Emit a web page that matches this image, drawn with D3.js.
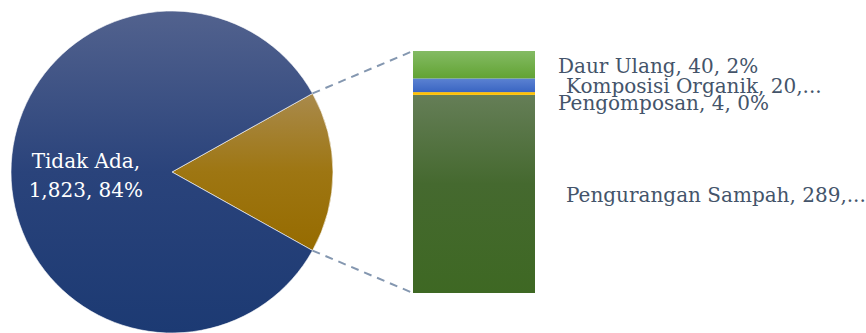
<!DOCTYPE html>
<html>
<head>
<meta charset="utf-8">
<script src="https://cdn.jsdelivr.net/npm/d3@7"></script>
<style>
  body { margin: 0; background: #fff; }
  text { font-family: "DejaVu Serif", serif; }
</style>
</head>
<body>
<div id="chart"></div>
<script>
// pie categories and values
const pieCategory = "Tidak Ada";
const pieValue = 1823;
// categories that get split out into the stacked bar (bottom to top)
const barCategories = ["Pengurangan Sampah", "Pengomposan", "Komposisi Organik", "Daur Ulang"];
const barValues = [289, 4, 20, 40];
// labels that Excel cut short with "..."
const cutLabels = ["Komposisi Organik", "Pengurangan Sampah"];

const width = 866, height = 333;
// pie geometry
const cx = 172, cy = 172, radius = 161;
// bar geometry
const bar = {left: 413, right: 535, top: 51, bottom: 293};

const otherValue = d3.sum(barValues);
const total = pieValue + otherValue;
const fmt = d3.format(",");
const pct = v => Math.round(v / total * 100) + "%";

const svg = d3.select("#chart").append("svg")
    .attr("width", width)
    .attr("height", height);

const defs = svg.append("defs");

// vertical gradients, lighter at the top like the Office style
function grad(id, stops) {
    let g = defs.append("linearGradient")
        .attr("id", id)
        .attr("x1", 0).attr("y1", 0).attr("x2", 0).attr("y2", 1);
    stops.forEach(s => g.append("stop").attr("offset", s[0]).attr("stop-color", s[1]));
}
grad("gBlue", [[0, "#52628e"], [0.5, "#2a437b"], [1, "#1c3a73"]]);
grad("gGold", [[0, "#a98a4c"], [0.5, "#9e7612"], [1, "#966b00"]]);
grad("gLight", [[0, "#84bb64"], [1, "#62a333"]]);
grad("gBlue2", [[0, "#5b82d2"], [1, "#3a65c2"]]);
grad("gGold2", [[0, "#ffc000"], [1, "#ffc000"]]);
grad("gDark", [[0, "#657e57"], [0.45, "#45692f"], [1, "#3e6823"]]);

const barFills = ["url(#gDark)", "url(#gGold2)", "url(#gBlue2)", "url(#gLight)"];

// pie: "other" slice centred on the right side
const otherAngle = otherValue / total * 2 * Math.PI;
const pie = d3.pie()
    .sort(null)
    .value(d => d.value)
    .startAngle(Math.PI / 2 - otherAngle / 2)
    .endAngle(Math.PI / 2 - otherAngle / 2 + 2 * Math.PI);

const arcs = pie([{name: "Other", value: otherValue}, {name: pieCategory, value: pieValue}]);
const arc = d3.arc().innerRadius(0).outerRadius(radius);

const pg = svg.append("g").attr("transform", `translate(${cx},${cy})`);
pg.selectAll("path")
    .data(arcs)
    .enter().append("path")
    .attr("d", arc)
    .attr("fill", d => d.data.name === "Other" ? "url(#gGold)" : "url(#gBlue)")
    .attr("stroke", "#fff")
    .attr("stroke-width", 0.6);

// label for the main slice
const main = arcs[1];
const mid = (main.startAngle + main.endAngle) / 2;
const lx = cx + Math.sin(mid) * radius * 0.535;
const ly = cy - Math.cos(mid) * radius * 0.535;
const pieText = svg.append("text")
    .attr("x", lx)
    .attr("y", ly)
    .attr("text-anchor", "middle")
    .attr("fill", "#fff")
    .attr("font-size", "20px");
pieText.append("tspan").attr("x", lx).attr("dy", "-4").text(pieCategory + ",");
pieText.append("tspan").attr("x", lx).attr("dy", "29").text(`${fmt(pieValue)}, ${pct(pieValue)}`);

// stacked bar
const y = d3.scaleLinear()
    .domain([0, otherValue])
    .range([bar.bottom, bar.top]);

let stacked = [];
let acc = 0;
barValues.forEach((v, i) => {
    stacked.push({name: barCategories[i], value: v, y0: acc, y1: acc + v, fill: barFills[i]});
    acc += v;
});

svg.selectAll(".seg")
    .data(stacked)
    .enter().append("rect")
    .attr("class", "seg")
    .attr("x", bar.left)
    .attr("width", bar.right - bar.left)
    .attr("y", d => y(d.y1))
    .attr("height", d => y(d.y0) - y(d.y1))
    .attr("fill", d => d.fill);

// connector lines from the other slice to the bar
const other = arcs[0];
const pt = a => [cx + Math.sin(a) * radius, cy - Math.cos(a) * radius];
const p1 = pt(other.startAngle), p2 = pt(other.endAngle);
svg.append("line")
    .attr("x1", p1[0]).attr("y1", p1[1])
    .attr("x2", bar.left).attr("y2", y(otherValue))
    .attr("stroke", "#8497b0").attr("stroke-width", 2).attr("stroke-dasharray", "8,6");
svg.append("line")
    .attr("x1", p2[0]).attr("y1", p2[1])
    .attr("x2", bar.left).attr("y2", y(0))
    .attr("stroke", "#8497b0").attr("stroke-width", 2).attr("stroke-dasharray", "8,6");

// bar labels, nudged down so they don't overlap
let labels = stacked.slice().reverse().map(d => {
    let txt = `${d.name}, ${fmt(d.value)}, ${pct(d.value)}`;
    let cut = cutLabels.includes(d.name);
    if (cut) txt = `${d.name}, ${fmt(d.value)},...`;
    return {text: txt, cy: y((d.y0 + d.y1) / 2), cut: cut};
});
for (let i = 1; i < labels.length; i++) {
    if (labels[i].cy < labels[i - 1].cy + 16.5) labels[i].cy = labels[i - 1].cy + 16.5;
}

svg.selectAll(".lbl")
    .data(labels)
    .enter().append("text")
    .attr("class", "lbl")
    .attr("x", d => bar.right + (d.cut ? 31 : 23))
    .attr("y", d => d.cy + 8)
    .attr("fill", "#44546a")
    .attr("font-size", "20px")
    .text(d => d.text);
</script>
</body>
</html>
